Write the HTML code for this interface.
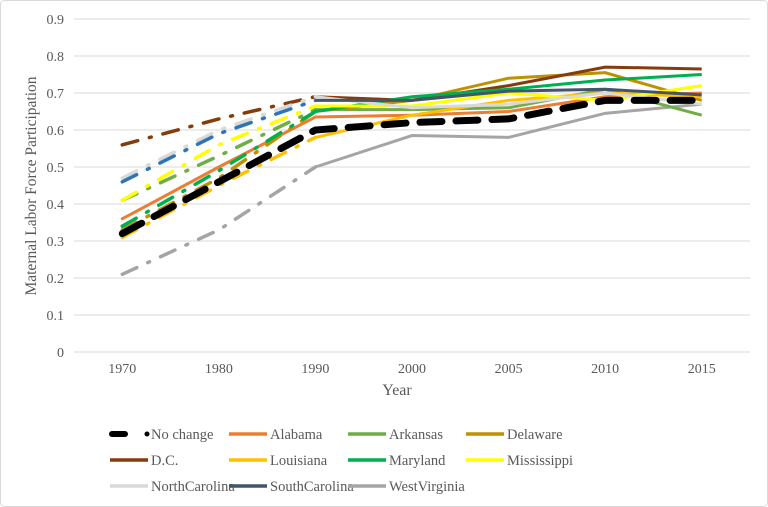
<!DOCTYPE html>
<html><head><meta charset="utf-8"><style>
body{margin:0;background:#fff}
svg{display:block;font-family:"Liberation Serif",serif}
</style></head><body>
<svg id="chart" width="768" height="507">
<rect x="0.5" y="0.5" width="767" height="506" rx="4" fill="#fff" stroke="#d9d9d9"/>
<g id="grid"></g><g id="lines"></g><g id="axes"></g><g id="legend"></g>
<text x="397" y="395" font-size="16" fill="#595959" text-anchor="middle">Year</text>
<text transform="translate(36,186) rotate(-90)" font-size="15.5" fill="#595959" text-anchor="middle">Maternal Labor Force Participation</text>
</svg>
<script>
const categories=["1970","1980","1990","2000","2005","2010","2015"];
const yTicks=[0,0.1,0.2,0.3,0.4,0.5,0.6,0.7,0.8,0.9];
const seriesNames=["No change","Alabama","Arkansas","Delaware","D.C.","Louisiana","Maryland","Mississippi","NorthCarolina","SouthCarolina","WestVirginia"];
const noChange=[0.32,0.46,0.60,0.62,0.63,0.68,0.68];
const alabama=[0.36,0.50,0.635,0.64,0.65,0.69,0.70];
const arkansas=[0.41,0.53,0.655,0.655,0.66,0.71,0.64];
const delaware=[0.33,0.47,0.65,0.68,0.74,0.755,0.68];
const dc=[0.56,0.63,0.69,0.68,0.72,0.77,0.765];
const louisiana=[0.31,0.45,0.58,0.64,0.68,0.70,0.69];
const maryland=[0.34,0.49,0.65,0.69,0.71,0.735,0.75];
const mississippi=[0.41,0.56,0.665,0.665,0.70,0.68,0.72];
const northCarolina=[0.47,0.60,0.69,0.66,0.67,0.70,0.67];
const southCarolina=[0.46,0.59,0.68,0.68,0.705,0.71,0.695];
const westVirginia=[0.21,0.33,0.50,0.585,0.58,0.645,0.67];
const series=[noChange,alabama,arkansas,delaware,dc,louisiana,maryland,mississippi,northCarolina,southCarolina,westVirginia];
const colors=["#000","#ED7D31","#70AD47","#BF9000","#843C0C","#FFC000","#00B050","#FFFF00","#D9D9D9","#44546A","#A5A5A5"];
const earlyColors=["#000","#ED7D31","#70AD47","#BF9000","#843C0C","#FFC000","#00B050","#FFFF00","#D9D9D9","#2E75B6","#A5A5A5"];
const NS="http://www.w3.org/2000/svg";
const L=74,R=750,T=19,B=352;
const x=i=>L+(R-L)/categories.length*(i+0.5);
const y=v=>B-(B-T)*v/0.9;
function mk(t,a,p){const e=document.createElementNS(NS,t);for(const k in a)e.setAttribute(k,a[k]);p.appendChild(e);return e;}
const grid=document.getElementById('grid'),axes=document.getElementById('axes'),lines=document.getElementById('lines'),leg=document.getElementById('legend');
yTicks.forEach(v=>{
 const g=mk('line',{x1:L,x2:R,y1:y(v),y2:y(v),stroke:'#d9d9d9','stroke-width':1},grid);
 
 
 const t=mk('text',{x:64,y:y(v)+5,'font-size':14,fill:'#595959','text-anchor':'end'},axes);
 t.textContent=v===0?'0':v.toFixed(1);
 
 
});
categories.forEach((c,i)=>{
 const t=mk('text',{x:x(i),y:373,'font-size':14,fill:'#595959','text-anchor':'middle'},axes);
 t.textContent=c;
 
 
});
const order=[10,1,2,3,4,5,6,7,8,9,0];
order.forEach(si=>{
 const d=series[si];
 if(si===0){
  const pts=d.map((v,i)=>x(i)+','+y(v)).join(' ');
  const p=mk('polyline',{points:pts,fill:'none',stroke:'#000','stroke-width':7,'stroke-dasharray':'22 14','stroke-linecap':'round'},lines);
  
  
  return;
 }
 const early=d.slice(0,3).map((v,i)=>x(i)+','+y(v)).join(' ');
 const late=d.slice(2).map((v,i)=>x(i+2)+','+y(v)).join(' ');
 const ea={points:early,fill:'none',stroke:earlyColors[si],'stroke-width':3.5,'stroke-linecap':'round'};
 if(si!==1) ea['stroke-dasharray']='16 12 2 12'; else ea['stroke-width']=3;
 const p1=mk('polyline',ea,lines);
 
 
 const p2=mk('polyline',{points:late,fill:'none',stroke:colors[si],'stroke-width':3},lines);
 
 
});
const colX=[110,229,348,466],rowY=[434,460,486];
seriesNames.forEach((n,i)=>{
 const cx=colX[i%4],cy=rowY[Math.floor(i/4)];
 const g=mk('g',{},leg);
 
 
 if(i===0){
  mk('line',{x1:112,x2:125,y1:cy,y2:cy,stroke:'#000','stroke-width':6,'stroke-linecap':'round'},g);
  mk('circle',{cx:147,cy:cy,r:2.5,fill:'#000'},g);
 } else {
  mk('line',{x1:cx,x2:cx+38,y1:cy,y2:cy,stroke:colors[i],'stroke-width':3.5},g);
 }
 const t=mk('text',{x:cx+41,y:cy+5,'font-size':14.5,fill:'#595959'},g);
 t.textContent=n;
});
</script>
</body></html>
